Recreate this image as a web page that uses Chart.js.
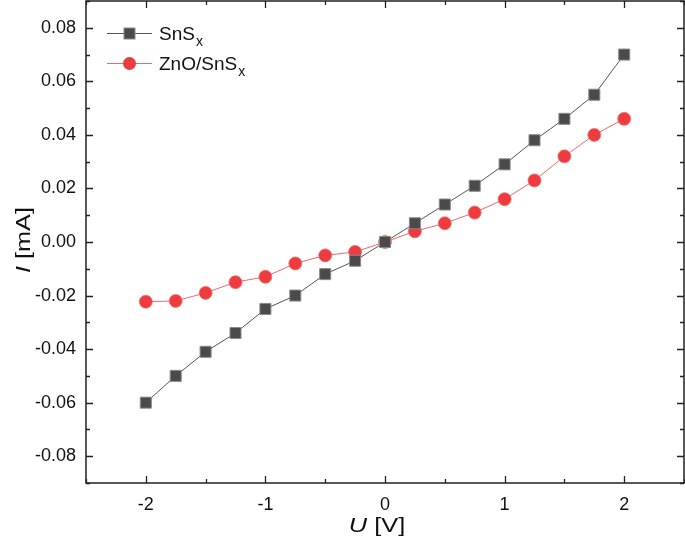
<!DOCTYPE html>
<html><head><meta charset="utf-8">
<script src="https://cdn.jsdelivr.net/npm/chart.js@4.4.1/dist/chart.umd.min.js"></script>
<style>html,body{margin:0;padding:0;background:#fff}#wrap{width:685px;height:541px}</style>
</head><body><div id="wrap"><canvas id="c" width="685" height="541"></canvas></div>
<script>
const voltages = [-2,-1.75,-1.5,-1.25,-1,-0.75,-0.5,-0.25,0,0.25,0.5,0.75,1,1.25,1.5,1.75,2];
const snsCurrent = [-0.060,-0.050,-0.041,-0.034,-0.025,-0.020,-0.012,-0.007,0,0.007,0.014,0.021,0.029,0.038,0.046,0.055,0.070];
const znoCurrent = [-0.0223,-0.022,-0.019,-0.015,-0.013,-0.008,-0.005,-0.0037,0,0.004,0.007,0.011,0.016,0.023,0.032,0.040,0.046];
const xTicks = [-2,-1,0,1,2];
const yTicks = [-0.08,-0.06,-0.04,-0.02,0,0.02,0.04,0.06,0.08];
const seriesNames = ['SnS', 'ZnO/SnS'];

const FONT = '"Liberation Sans", Arial, sans-serif';

function drawMixed(ctx, parts, cx, baseline, size, stretch) {
  let total = 0;
  const widths = parts.map(p => { ctx.font = (p[1] ? 'italic ' : '') + size + 'px ' + FONT; const w = ctx.measureText(p[0]).width; total += w; return w; });
  ctx.save();
  ctx.translate(cx, baseline);
  ctx.scale(stretch, 1);
  let x = -total / 2;
  ctx.textAlign = 'left';
  parts.forEach((p, i) => { ctx.font = (p[1] ? 'italic ' : '') + size + 'px ' + FONT; ctx.fillText(p[0], x, 0); x += widths[i]; });
  ctx.restore();
}

const framePlugin = {
  id: 'frame',
  afterDraw(chart) {
    const ctx = chart.ctx, a = chart.chartArea;
    const xs = chart.scales.x, ys = chart.scales.y;
    ctx.save();
    ctx.strokeStyle = '#222';
    ctx.lineWidth = 1.5;
    ctx.strokeRect(a.left, a.top, a.right - a.left, a.bottom - a.top);
    ctx.lineWidth = 1.3;
    for (let v = -2.5; v <= 2.5001; v += 0.5) {
      const px = Math.round(xs.getPixelForValue(v)) + 0.5;
      const major = Math.abs(v - Math.round(v)) < 1e-6;
      const L = major ? 7 : 4;
      ctx.beginPath();
      ctx.moveTo(px, a.bottom); ctx.lineTo(px, a.bottom - L);
      ctx.moveTo(px, a.top); ctx.lineTo(px, a.top + L);
      ctx.stroke();
    }
    for (let i = -9; i <= 9; i++) {
      const v = i * 0.01;
      const py = Math.round(ys.getPixelForValue(v)) + 0.5;
      const major = i % 2 === 0;
      const L = major ? 7 : 4;
      ctx.beginPath();
      ctx.moveTo(a.left, py); ctx.lineTo(a.left + L, py);
      ctx.moveTo(a.right, py); ctx.lineTo(a.right - L, py);
      ctx.stroke();
    }
    ctx.fillStyle = '#111';
    ctx.textBaseline = 'alphabetic';
    drawMixed(ctx, [['U', true], [' [V]', false]], xs.getPixelForValue(0) - 8, 532, 20, 1.27);
    ctx.save();
    ctx.translate(30, ys.getPixelForValue(0) - 2);
    ctx.rotate(-Math.PI / 2);
    drawMixed(ctx, [['I', true], [' [mA]', false]], 0, 0, 21, 1.2);
    ctx.restore();
    const ds = chart.data.datasets;
    const rows = [33, 63];
    ds.forEach((d, i) => {
      const y = rows[i];
      ctx.strokeStyle = d.borderColor; ctx.lineWidth = 1;
      ctx.beginPath(); ctx.moveTo(107, y + 0.5); ctx.lineTo(152, y + 0.5); ctx.stroke();
      ctx.fillStyle = d.pointBackgroundColor;
      ctx.strokeStyle = d.pointBorderColor;
      if (d.pointStyle === 'rect') {
        ctx.fillRect(124, y - 5, 11, 11);
        ctx.strokeRect(124, y - 5, 11, 11);
      } else {
        ctx.beginPath(); ctx.arc(129.5, y + 0.5, 6.5, 0, Math.PI * 2); ctx.fill();
      }
      ctx.fillStyle = '#111';
      ctx.font = '19px ' + FONT; ctx.textAlign = 'left';
      ctx.fillText(seriesNames[i], 159, y + 7);
      const tw = ctx.measureText(seriesNames[i]).width;
      ctx.font = '14px ' + FONT;
      ctx.fillText('x', 159 + tw + 1, y + 13);
    });
    ctx.restore();
  }
};

function zeroPad(s) { s.paddingTop = 0; s.paddingBottom = 0; s.paddingLeft = 0; s.paddingRight = 0; }

new Chart(document.getElementById('c'), {
  type: 'scatter',
  data: {
    datasets: [
      {
        label: 'SnSx',
        data: voltages.map((v, i) => ({x: v, y: snsCurrent[i]})),
        showLine: true,
        borderColor: '#555555',
        borderWidth: 1,
        pointStyle: 'rect',
        pointRadius: 7.8,
        pointBackgroundColor: '#4a4a4a',
        pointBorderColor: '#8a8a8a',
        pointBorderWidth: 1
      },
      {
        label: 'ZnO/SnSx',
        data: voltages.map((v, i) => ({x: v, y: znoCurrent[i]})),
        showLine: true,
        borderColor: '#f06868',
        borderWidth: 1,
        pointStyle: 'circle',
        pointRadius: 6.5,
        pointBackgroundColor: '#ee3b40',
        pointBorderColor: '#f07070',
        pointBorderWidth: 0.8
      }
    ]
  },
  options: {
    responsive: false,
    animation: false,
    layout: { autoPadding: false, padding: { top: 1, right: 1, left: 0, bottom: 0 } },
    plugins: { legend: { display: false }, tooltip: { enabled: false } },
    scales: {
      x: {
        type: 'linear', min: -2.5, max: 2.5,
        afterBuildTicks(s) { s.ticks = xTicks.map(v => ({value: v})); },
        afterFit(s) { s.height = 58; zeroPad(s); },
        grid: { display: false, drawTicks: false },
        border: { display: false },
        ticks: { padding: 11, color: '#111', font: { family: FONT, size: 18 }, callback: v => String(v) }
      },
      y: {
        type: 'linear', min: -0.09, max: 0.09,
        afterBuildTicks(s) { s.ticks = yTicks.map(v => ({value: v})); },
        afterFit(s) { s.width = 86; zeroPad(s); },
        grid: { display: false, drawTicks: false },
        border: { display: false },
        ticks: { padding: 10, color: '#111', font: { family: FONT, size: 18 }, callback: v => v.toFixed(2) }
      }
    }
  },
  plugins: [framePlugin]
});
</script>
</body></html>
